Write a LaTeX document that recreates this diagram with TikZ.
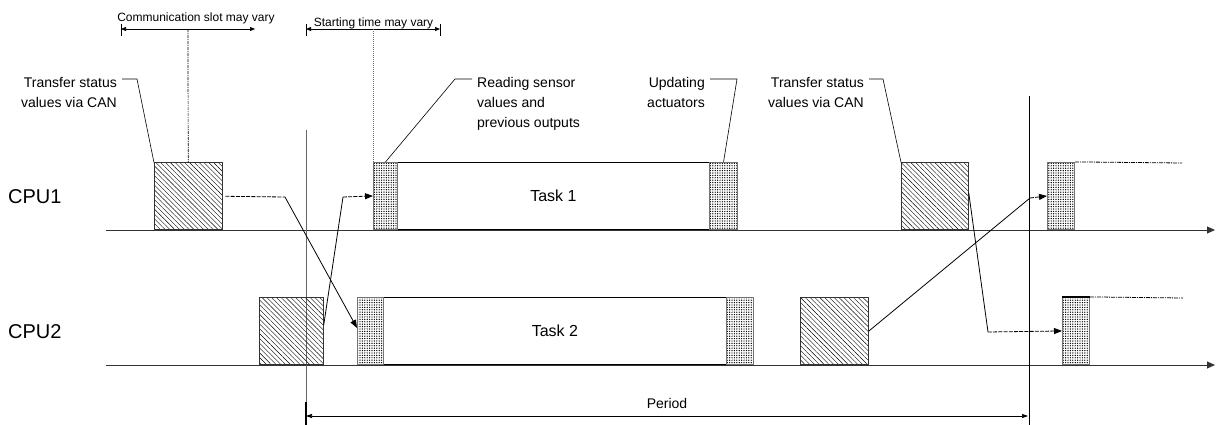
\documentclass[tikz,border=0pt]{standalone}
\usepackage{fontspec}
\setmainfont{Liberation Sans}
\usetikzlibrary{arrows.meta,patterns.meta}

\begin{document}
\begin{tikzpicture}[x=1pt,y=-1pt,
  axis/.style={draw=black!80, line width=0.9pt, -{Triangle[length=8pt,width=7pt]}},
  hatchbox/.style={draw=black!80, line width=0.7pt,
    pattern={Lines[angle=-45,distance=3.4pt,line width=0.4pt]},
    inner sep=0pt, minimum height=67pt, anchor=south west},
  dotbox/.style={draw=black!55, line width=1.1pt,
    pattern={Dots[distance=2.4pt,radius=0.7pt]},
    inner sep=0pt, minimum height=67pt, anchor=south west},
  taskbox/.style={draw=black, line width=0.9pt, inner sep=0pt,
    minimum height=67pt, anchor=south west, font=\fontsize{16}{19}\selectfont},
  cpulabel/.style={inner sep=0pt, anchor=west, font=\fontsize{20}{24}\selectfont},
  note/.style={inner sep=0pt, font=\fontsize{14}{20}\selectfont},
  small/.style={inner sep=0pt, anchor=base, font=\fontsize{12}{14}\selectfont},
  leader/.style={draw=black, line width=0.6pt},
  msgsolid/.style={draw=black, line width=0.8pt},
  msgdash/.style={draw=black, line width=0.8pt, dash pattern=on 4pt off 1.2pt},
  tip/.style={-{Triangle[length=8pt,width=6pt]}},
  span/.style={draw=black, line width=0.7pt, {Triangle[length=5pt,width=4pt]}-{Triangle[length=5pt,width=4pt]}},
  trail/.style={draw=black, line width=0.8pt, dash pattern=on 4pt off 1pt on 1pt off 1pt},
]
\useasboundingbox (0,0) rectangle (1218,425);
\fill[white] (0,0) rectangle (1218,425);

% time axes
\coordinate (ax1s) at (106,230); \coordinate (ax1e) at (1215,230);
\coordinate (ax2s) at (106,365); \coordinate (ax2e) at (1215,365);
\draw[axis] (ax1s) -- (ax1e);
\draw[axis] (ax2s) -- (ax2e);

\node[cpulabel] (cpu1) at (8,197) {CPU1};
\node[cpulabel] (cpu2) at (8,332) {CPU2};

% period boundaries
\coordinate (v1t) at (306,130); \coordinate (v1b) at (306,425);
\coordinate (v2t) at (1029,96); \coordinate (v2b) at (1029,425);
\draw[draw=black!60, line width=0.8pt] (v1t) -- (v1b);
\draw[draw=black, line width=0.8pt] (v2t) -- (v2b);
\coordinate (pk) at (306,402);
\draw[line width=2pt] (pk) -- (v1b);

% CPU1 schedule
\node[hatchbox, minimum width=68pt] (h1a) at (154,230) {};
\node[taskbox, minimum width=312pt] (t1) at (397,230) {Task 1};
\node[dotbox, minimum width=24pt] (r1a) at (373,230) {};
\node[dotbox, minimum width=28pt] (u1) at (709,230) {};
\node[hatchbox, minimum width=67pt] (h1b) at (901,230) {};
\node[dotbox, minimum width=27pt] (r1b) at (1047,230) {};
\coordinate (e1) at (1182,163);
\draw[trail] (r1b.north east) -- (e1);

% CPU2 schedule
\node[hatchbox, minimum width=64pt] (h2a) at (259,365) {};
\node[taskbox, minimum width=343pt] (t2) at (383,365) {Task 2};
\node[dotbox, minimum width=26pt] (r2a) at (357,365) {};
\node[dotbox, minimum width=27pt] (u2) at (726,365) {};
\node[hatchbox, minimum width=68pt] (h2b) at (800,365) {};
\node[dotbox, minimum width=27pt] (r2b) at (1062,365) {};
\coordinate (e2) at (1183,298);
\draw[line width=1.8pt] (r2b.north west) -- (r2b.north east);
\draw[trail] (r2b.north east) -- (e2);

% messages between the CPUs
\coordinate (a1) at (285,197);
\draw[msgdash] ([xshift=3pt]h1a.east) -- (a1);
\draw[msgsolid, tip] (a1) -- ([yshift=3pt]r2a.west);

\coordinate (b1) at (343,197);
\draw[msgsolid] ([yshift=6pt]h2a.east) -- (b1);
\draw[msgdash, tip] (b1) -- (r1a.west);

\coordinate (c1) at (1030,198);
\draw[msgsolid] (h2b.east) -- (c1);
\draw[msgdash, tip] (c1) -- (r1b.west);

\coordinate (d1) at (988,332);
\draw[msgsolid] ([yshift=3.5pt]h1b.east) -- (d1);
\draw[msgdash, tip] (d1) -- (r2b.west);

% annotations
\node[note, anchor=north east, align=right] (lab1) at (117,77) {Transfer status\\values via CAN};
\node[note, anchor=north west, align=left] (lab2) at (477,77) {Reading sensor\\values and\\previous outputs};
\node[note, anchor=north east, align=right] (lab3) at (705,77) {Updating\\actuators};
\node[note, anchor=north east, align=right] (lab4) at (864,77) {Transfer status\\values via CAN};

\coordinate (k1) at (137,79);
\draw[leader] ([xshift=5pt,yshift=-2pt]lab1.north east) -- (k1) -- (h1a.north west);
\coordinate (k2) at (455,79);
\draw[leader] (r1a.north) -- (k2) -- ([xshift=-5pt,yshift=-2pt]lab2.north west);
\coordinate (k3) at (737,79);
\draw[leader] ([xshift=5pt,yshift=-2pt]lab3.north east) -- (k3) -- (u1.north);
\coordinate (k4) at (883,79);
\draw[leader] ([xshift=5pt,yshift=-2pt]lab4.north east) -- (k4) -- (h1b.north west);

% variation ranges
\coordinate (cs1) at (121,29); \coordinate (cs2) at (255,29);
\draw[line width=0.7pt] (121,24) -- (121,36);
\draw[span] (cs1) -- (cs2);
\node[small] (cstxt) at (196,22) {Communication slot may vary};
\coordinate (cm) at (188,29);
\draw[line width=0.7pt, dash pattern=on 3pt off 1pt on 1pt off 1pt] (cm) -- (h1a.north);

\coordinate (st1) at (306,29); \coordinate (st2) at (440,29);
\draw[line width=0.7pt] (306,24) -- (306,36);
\draw[line width=0.7pt] (440,24) -- (440,36);
\draw[span] (st1) -- (st2);
\node[small] (sttxt) at (373.5,27) {Starting time may vary};
\coordinate (sm) at (373,29);
\draw[draw=black!55, line width=0.6pt, dash pattern=on 1pt off 1pt] (sm) -- (r1a.north west);

% period
\coordinate (pl) at (306,416); \coordinate (pr) at (1028,416);
\draw[line width=0.7pt, {Triangle[length=6pt,width=4pt]}-{Triangle[length=6pt,width=4pt]}] (pl) -- (pr);
\node[inner sep=0pt, anchor=base, font=\fontsize{14}{16}\selectfont] (ptxt) at (667,408) {Period};
\end{tikzpicture}
\end{document}
